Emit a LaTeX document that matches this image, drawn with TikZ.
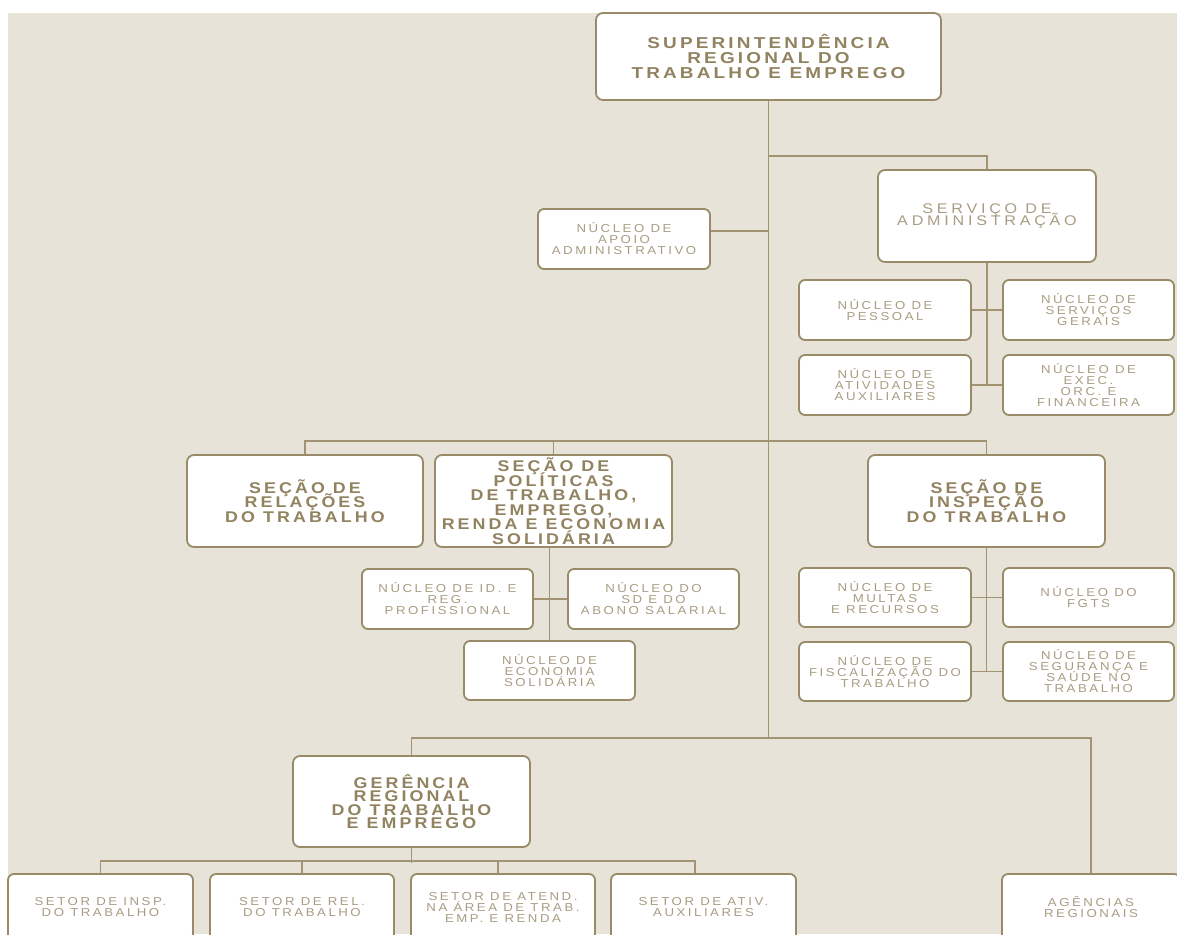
\documentclass[tikz,border=0pt]{standalone}
\usepackage{fontspec}
\setmainfont{Liberation Sans}
\newfontfamily\hfont[FakeStretch=1.15,LetterSpace=20]{Liberation Sans}
\newfontfamily\tfont[FakeStretch=1.2,LetterSpace=20]{Liberation Sans}
\newfontfamily\sfont[FakeStretch=1.15,LetterSpace=22]{Liberation Sans}
\newfontfamily\mfont[FakeStretch=1.15,LetterSpace=27]{Liberation Sans}
\usetikzlibrary{calc}
\definecolor{bgc}{HTML}{E7E3D9}
\definecolor{linec}{HTML}{A29373}
\definecolor{borderc}{HTML}{998A68}
\definecolor{headc}{HTML}{928360}
\definecolor{smallc}{HTML}{A89D82}
\tikzset{
  boxbase/.style={draw=borderc, line width=1.8pt, fill=white, rounded corners=7pt, inner sep=0pt, align=center},
  titlebox/.style={boxbase, text=headc, font={\tfont\bfseries\fontsize{15.8}{15.3}\selectfont\lineskiplimit=-30pt}},
  headbox/.style={boxbase, text=headc, font={\hfont\bfseries\fontsize{15.5}{14.5}\selectfont\lineskiplimit=-30pt}},
  midbox/.style={boxbase, text=smallc, font={\mfont\fontsize{14}{12}\selectfont\lineskiplimit=-30pt}},
  smallbox/.style={boxbase, rounded corners=6pt, text=smallc, font={\sfont\fontsize{11.5}{11}\selectfont\lineskiplimit=-30pt}},
  conn/.style={draw=linec, line width=1.3pt}
}
\begin{document}
\begin{tikzpicture}[x=1pt,y=-1pt]
\useasboundingbox (0,0) rectangle (1177,934);
\clip (0,0) rectangle (1177,934);
\fill[white] (0,0) rectangle (1177,934);
\fill[bgc] (8,13) rectangle (1177,934);

\node[titlebox, minimum width=345, minimum height=87] (top) at (768.5,56.5) {SUPERINTENDÊNCIA\\REGIONAL DO\\TRABALHO E EMPREGO};
\node[smallbox, minimum width=172, minimum height=60] (apoio) at (624,239) {NÚCLEO DE\\APOIO\\ADMINISTRATIVO};
\node[midbox, minimum width=218, minimum height=92] (serv) at (987,216) {SERVIÇO DE\\ADMINISTRAÇÃO};
\node[smallbox, minimum width=172, minimum height=60] (pess) at (885,310) {NÚCLEO DE\\PESSOAL};
\node[smallbox, minimum width=171, minimum height=60] (gerais) at (1088.5,310) {NÚCLEO DE\\SERVIÇOS\\GERAIS};
\node[smallbox, minimum width=172, minimum height=60] (ativ) at (885,385) {NÚCLEO DE\\ATIVIDADES\\AUXILIARES};
\node[smallbox, minimum width=171, minimum height=60] (exec) at (1088.5,385) {NÚCLEO DE\\EXEC.\\ORC. E\\FINANCEIRA};

\node[headbox, minimum width=236, minimum height=92] (relac) at (305,501) {SEÇÃO DE\\RELAÇÕES\\DO TRABALHO};
\node[headbox, minimum width=237, minimum height=92] (polit) at (553.5,501) {SEÇÃO DE\\POLÍTICAS\\DE TRABALHO,\\EMPREGO,\\RENDA E ECONOMIA\\SOLIDÁRIA};
\node[smallbox, minimum width=171, minimum height=60] (idreg) at (447.5,599) {NÚCLEO DE ID. E\\REG.\\PROFISSIONAL};
\node[smallbox, minimum width=171, minimum height=60] (sdab) at (653.5,599) {NÚCLEO DO\\SD E DO\\ABONO SALARIAL};
\node[smallbox, minimum width=171, minimum height=59] (econ) at (549.5,670.5) {NÚCLEO DE\\ECONOMIA\\SOLIDÁRIA};

\node[headbox, minimum width=237, minimum height=92] (insp) at (986.5,501) {SEÇÃO DE\\INSPEÇÃO\\DO TRABALHO};
\node[smallbox, minimum width=172, minimum height=59] (mult) at (885,597.5) {NÚCLEO DE\\MULTAS\\E RECURSOS};
\node[smallbox, minimum width=171, minimum height=59] (fgts) at (1088.5,597.5) {NÚCLEO DO\\FGTS};
\node[smallbox, minimum width=172, minimum height=59] (fisc) at (885,671.5) {NÚCLEO DE\\FISCALIZAÇÃO DO\\TRABALHO};
\node[smallbox, minimum width=171, minimum height=59] (segu) at (1088.5,671.5) {NÚCLEO DE\\SEGURANÇA E\\SAÚDE NO\\TRABALHO};

\node[headbox, font={\hfont\bfseries\fontsize{15.5}{13.5}\selectfont\lineskiplimit=-30pt}, minimum width=237, minimum height=91] (geren) at (411.5,801.5) {GERÊNCIA\\REGIONAL\\DO TRABALHO\\E EMPREGO};
\node[smallbox, minimum width=185, minimum height=66] (s1) at (100.5,907) {SETOR DE INSP.\\DO TRABALHO};
\node[smallbox, minimum width=184, minimum height=66] (s2) at (302,907) {SETOR DE REL.\\DO TRABALHO};
\node[smallbox, minimum width=184, minimum height=66] (s3) at (503,907) {SETOR DE ATEND.\\NA ÁREA DE TRAB.\\EMP. E RENDA};
\node[smallbox, minimum width=185, minimum height=66] (s4) at (703.5,907) {SETOR DE ATIV.\\AUXILIARES};
\node[smallbox, minimum width=178, minimum height=66] (ag) at (1091,907) {AGÊNCIAS\\REGIONAIS};

% connectors
\draw[conn] (top.south) -- ($(top.south |- geren.north)+(0,-17)$);
\draw[conn] ($(top.south)+(0,55)$) -| (serv.north);
\draw[conn] ($(apoio.east)+(0,-8)$) -- ($(apoio.east -| top.south)+(0,-8)$);
\draw[conn] (serv.south) -- (serv.south |- ativ.east);
\draw[conn] (pess.east) -- (gerais.west);
\draw[conn] (ativ.east) -- (exec.west);
\draw[conn] (relac.north) -- ++(0,-13) -| (insp.north);
\draw[conn] (polit.north) -- ++(0,-13);
\draw[conn] (econ.north |- polit.south) -- (econ.north);
\draw[conn] (idreg.east) -- (sdab.west);
\draw[conn] (insp.south) -- (insp.south |- fisc.east);
\draw[conn] (mult.east) -- (fgts.west);
\draw[conn] (fisc.east) -- (segu.west);
\draw[conn] (geren.north) -- ++(0,-17) -| (ag.north);
\draw[conn] (geren.south) -- ++(0,15);
\draw[conn] (s1.north) -- ++(0,-12) -| ($(s4.north)+(-8.5,0)$);
\draw[conn] (s2.north) -- ++(0,-12);
\draw[conn] ($(s3.north)+(-5,0)$) -- ++(0,-12);
\end{tikzpicture}
\end{document}
